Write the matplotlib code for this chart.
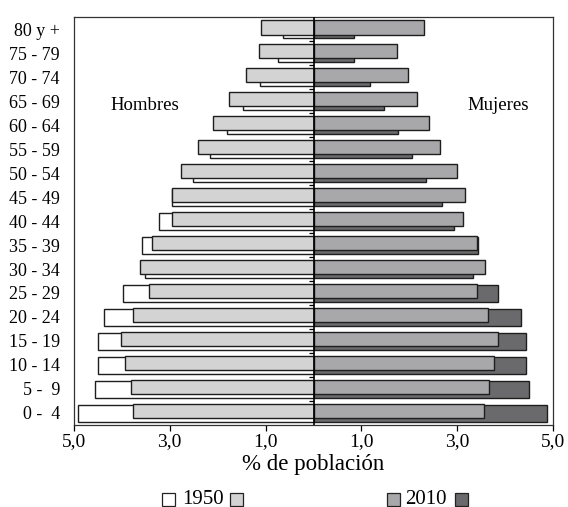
import numpy as np
import matplotlib.pyplot as plt
from matplotlib.patches import Rectangle

plt.rcParams['font.family'] = ['Liberation Serif', 'DejaVu Serif']

# age groups, bottom to top
grupos = ['0 -  4', '5 -  9', '10 - 14', '15 - 19', '20 - 24', '25 - 29',
          '30 - 34', '35 - 39', '40 - 44', '45 - 49', '50 - 54', '55 - 59',
          '60 - 64', '65 - 69', '70 - 74', '75 - 79', '80 y +']

# % of population
hombres_1950 = [4.92, 4.56, 4.49, 4.49, 4.38, 3.98, 3.51, 3.57, 3.22, 2.95,
                2.52, 2.16, 1.80, 1.47, 1.11, 0.74, 0.64]
hombres_2010 = [3.76, 3.80, 3.94, 4.02, 3.77, 3.44, 3.62, 3.36, 2.96, 2.96,
                2.77, 2.41, 2.09, 1.76, 1.40, 1.13, 1.10]
mujeres_1950 = [4.87, 4.50, 4.43, 4.43, 4.32, 3.84, 3.33, 3.44, 2.93, 2.67,
                2.34, 2.05, 1.76, 1.47, 1.17, 0.84, 0.84]
mujeres_2010 = [3.56, 3.66, 3.77, 3.85, 3.63, 3.40, 3.58, 3.40, 3.11, 3.15,
                3.00, 2.64, 2.41, 2.16, 1.97, 1.75, 2.30]

ticks = [-5, -3, -1, 1, 3, 5]

c_blanco = 'white'
c_claro = '#d3d3d3'
c_medio = '#a8a8aa'
c_oscuro = '#6a6a6c'
borde = '#1e1e1e'

y = np.arange(len(grupos))

fig = plt.figure(figsize=(5.68, 5.07), dpi=100)
ax = fig.add_axes([0.130, 0.162, 0.844, 0.804])

# 1950 behind, slightly lower; 2010 in front, slightly higher
ax.barh(y - 0.01, -np.array(hombres_1950), height=0.70, color=c_blanco,
        edgecolor=borde, linewidth=1.0, zorder=2)
ax.barh(y - 0.01, mujeres_1950, height=0.70, color=c_oscuro,
        edgecolor=borde, linewidth=1.0, zorder=2)
ax.barh(y + 0.08, -np.array(hombres_2010), height=0.60, color=c_claro,
        edgecolor=borde, linewidth=1.0, zorder=3)
ax.barh(y + 0.08, mujeres_2010, height=0.60, color=c_medio,
        edgecolor=borde, linewidth=1.0, zorder=3)

ax.axvline(0, color='black', linewidth=1.2, zorder=4)
# little marks between groups on the centre line
ax.hlines(y[:-1] + 0.5, -0.1, 0, color='black', linewidth=0.9, zorder=4)

ax.set_xlim(-5, 5)
ax.set_ylim(-0.5, len(grupos) - 0.5)
ax.set_yticks(y)
ax.set_yticklabels(grupos, fontsize=13)
ax.tick_params(axis='y', length=0, pad=10)
ax.set_xticks(ticks)
ax.set_xticklabels([('%.1f' % abs(t)).replace('.', ',') for t in ticks], fontsize=14)
ax.xaxis.set_tick_params(length=4, width=0.9, pad=2)
for s in ax.spines.values():
    s.set_linewidth(0.9)
    s.set_color('#333333')

ax.set_xlabel('% de población', fontsize=16.5, labelpad=3)

ax.text(-3.52, 12.8, 'Hombres', fontsize=13.5, ha='center', va='center')
ax.text(3.85, 12.8, 'Mujeres', fontsize=13.5, ha='center', va='center')

# legend drawn by hand: box text box
W, H = 568.0, 507.0
def caja(x0, color):
    fig.patches.append(Rectangle((x0 / W, 1 - 505.5 / H), 13 / W, 13 / H,
                                 transform=fig.transFigure, facecolor=color,
                                 edgecolor='#222222', linewidth=0.9))

caja(162, c_blanco)
fig.text(203 / W, 1 - 499 / H, '1950', fontsize=15, ha='center', va='center')
caja(230, c_claro)
caja(387, c_medio)
fig.text(426 / W, 1 - 499 / H, '2010', fontsize=15, ha='center', va='center')
caja(455, c_oscuro)

fig.savefig('out.png', dpi=100)
